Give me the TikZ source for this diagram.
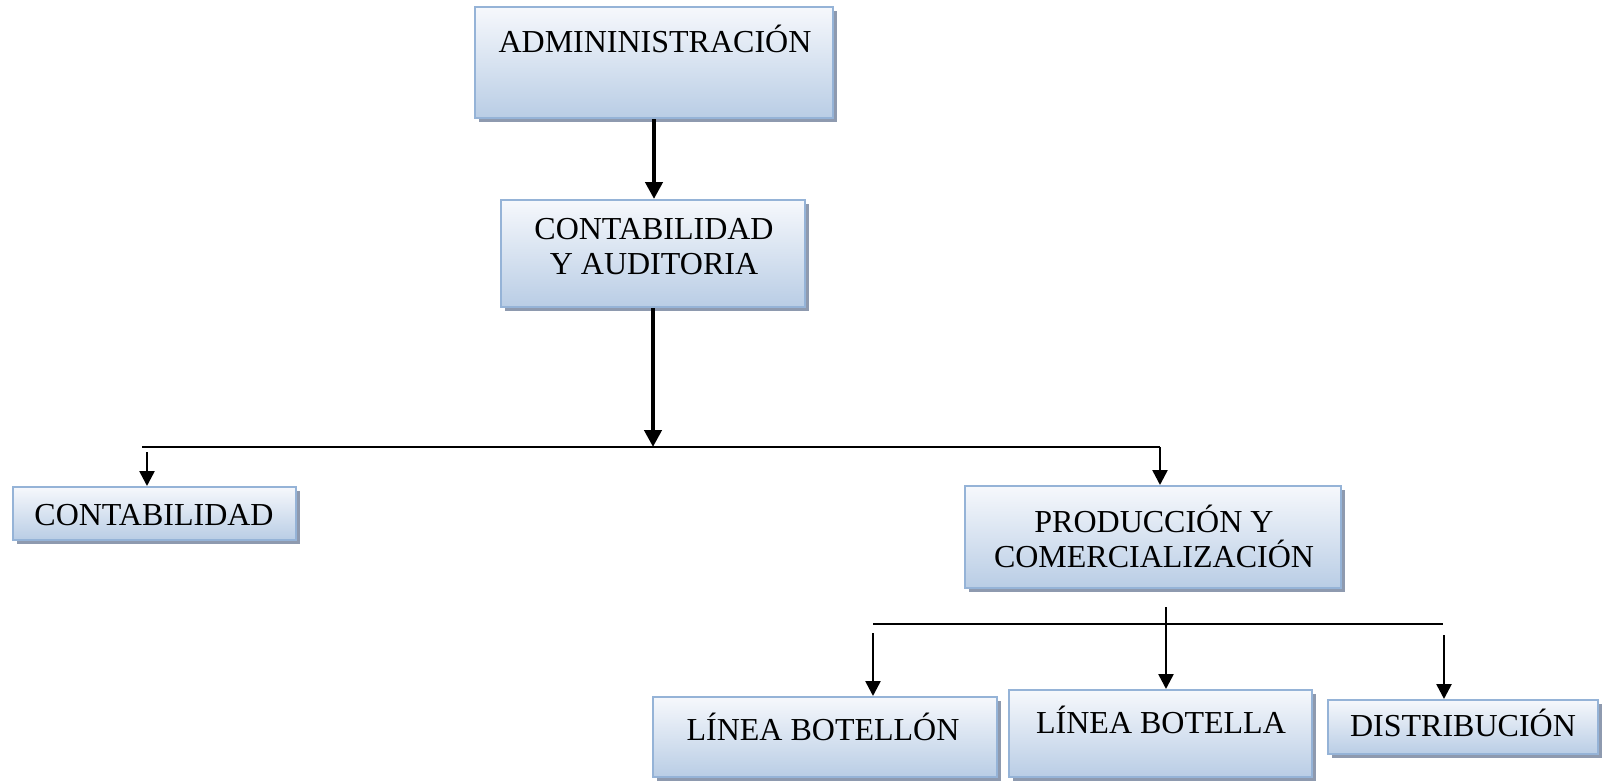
\documentclass[tikz,border=0pt]{standalone}
\usepackage{fontspec}
\setmainfont{Liberation Serif}
\usetikzlibrary{arrows.meta,shadows}
\definecolor{boxline}{HTML}{95B3D7}
\definecolor{boxtop}{HTML}{F6F8FC}
\definecolor{boxbottom}{HTML}{B9CDE5}
\definecolor{boxshadow}{HTML}{8E9AAF}
\begin{document}
\begin{tikzpicture}[x=0.5pt,y=-0.5pt,
  box/.style={draw=boxline, line width=1pt, top color=boxtop, bottom color=boxbottom,
    drop shadow={shadow xshift=2pt, shadow yshift=-2pt, fill=boxshadow, opacity=1},
    inner sep=0pt},
  oneline/.style={inner sep=0pt, anchor=center, text height=10.6pt, text depth=0pt,
    font=\fontsize{16pt}{17.5pt}\selectfont},
  twoline/.style={inner sep=0pt, anchor=center, align=center,
    font=\fontsize{16pt}{17.5pt}\selectfont},
  link/.style={line width=1pt},
  down/.style={line width=1.3pt, -{Triangle[length=7.5pt,width=7.5pt]}},
  heavy/.style={line width=2.4pt, -{Triangle[length=8.5pt,width=8.5pt]}}]
\useasboundingbox (0,0) rectangle (1614,782);

% boxes
\node[box, minimum width=179pt, minimum height=55.5pt] (admin) at (654,62.5) {};
\node[box, minimum width=152pt, minimum height=53.5pt] (cya) at (653,253.5) {};
\node[box, minimum width=141.5pt, minimum height=26.5pt] (cont) at (154.5,513.5) {};
\node[box, minimum width=188pt, minimum height=51pt] (prod) at (1153,537) {};
\node[box, minimum width=172pt, minimum height=40pt] (botellon) at (825,737) {};
\node[box, minimum width=151.5pt, minimum height=43.5pt] (botella) at (1160.5,733.5) {};
\node[box, minimum width=135pt, minimum height=27pt] (distrib) at (1463,727) {};

% labels
\node[oneline] (admint) at (655,42) {ADMININISTRACIÓN};
\node[twoline] (cyat) at (654,247) {CONTABILIDAD\\Y AUDITORIA};
\node[oneline] (contt) at (154,515) {CONTABILIDAD};
\node[twoline] (prodt) at (1154,536.5) {PRODUCCIÓN Y\\COMERCIALIZACIÓN};
\node[oneline] (botellont) at (823,730) {LÍNEA BOTELLÓN};
\node[oneline] (botellat) at (1161,723) {LÍNEA BOTELLA};
\node[oneline] (distribt) at (1463,726) {DISTRIBUCIÓN};

% junction points
\coordinate (j1) at (653,447);
\coordinate (h1l) at (142,447);
\coordinate (h1r) at (1160,447);
\coordinate (a1) at (147,452);
\coordinate (h2l) at (873,624);
\coordinate (h2r) at (1443,624);
\coordinate (a2) at (873,633);
\coordinate (a3) at (1166,607);
\coordinate (a4) at (1444,635);

% connectors
\draw[heavy] (admin.south) -- (admin.south |- cya.north);
\draw[heavy] (cya.south) -- (j1);
\draw[link] (h1l) -- (h1r);
\draw[down] (a1) -- (a1 |- cont.north);
\draw[down] (h1r) -- (h1r |- prod.north);
\draw[link] (h2l) -- (h2r);
\draw[down] (a2) -- (a2 |- botellon.north);
\draw[down] (a3) -- (a3 |- botella.north);
\draw[down] (a4) -- (a4 |- distrib.north);
\end{tikzpicture}
\end{document}
